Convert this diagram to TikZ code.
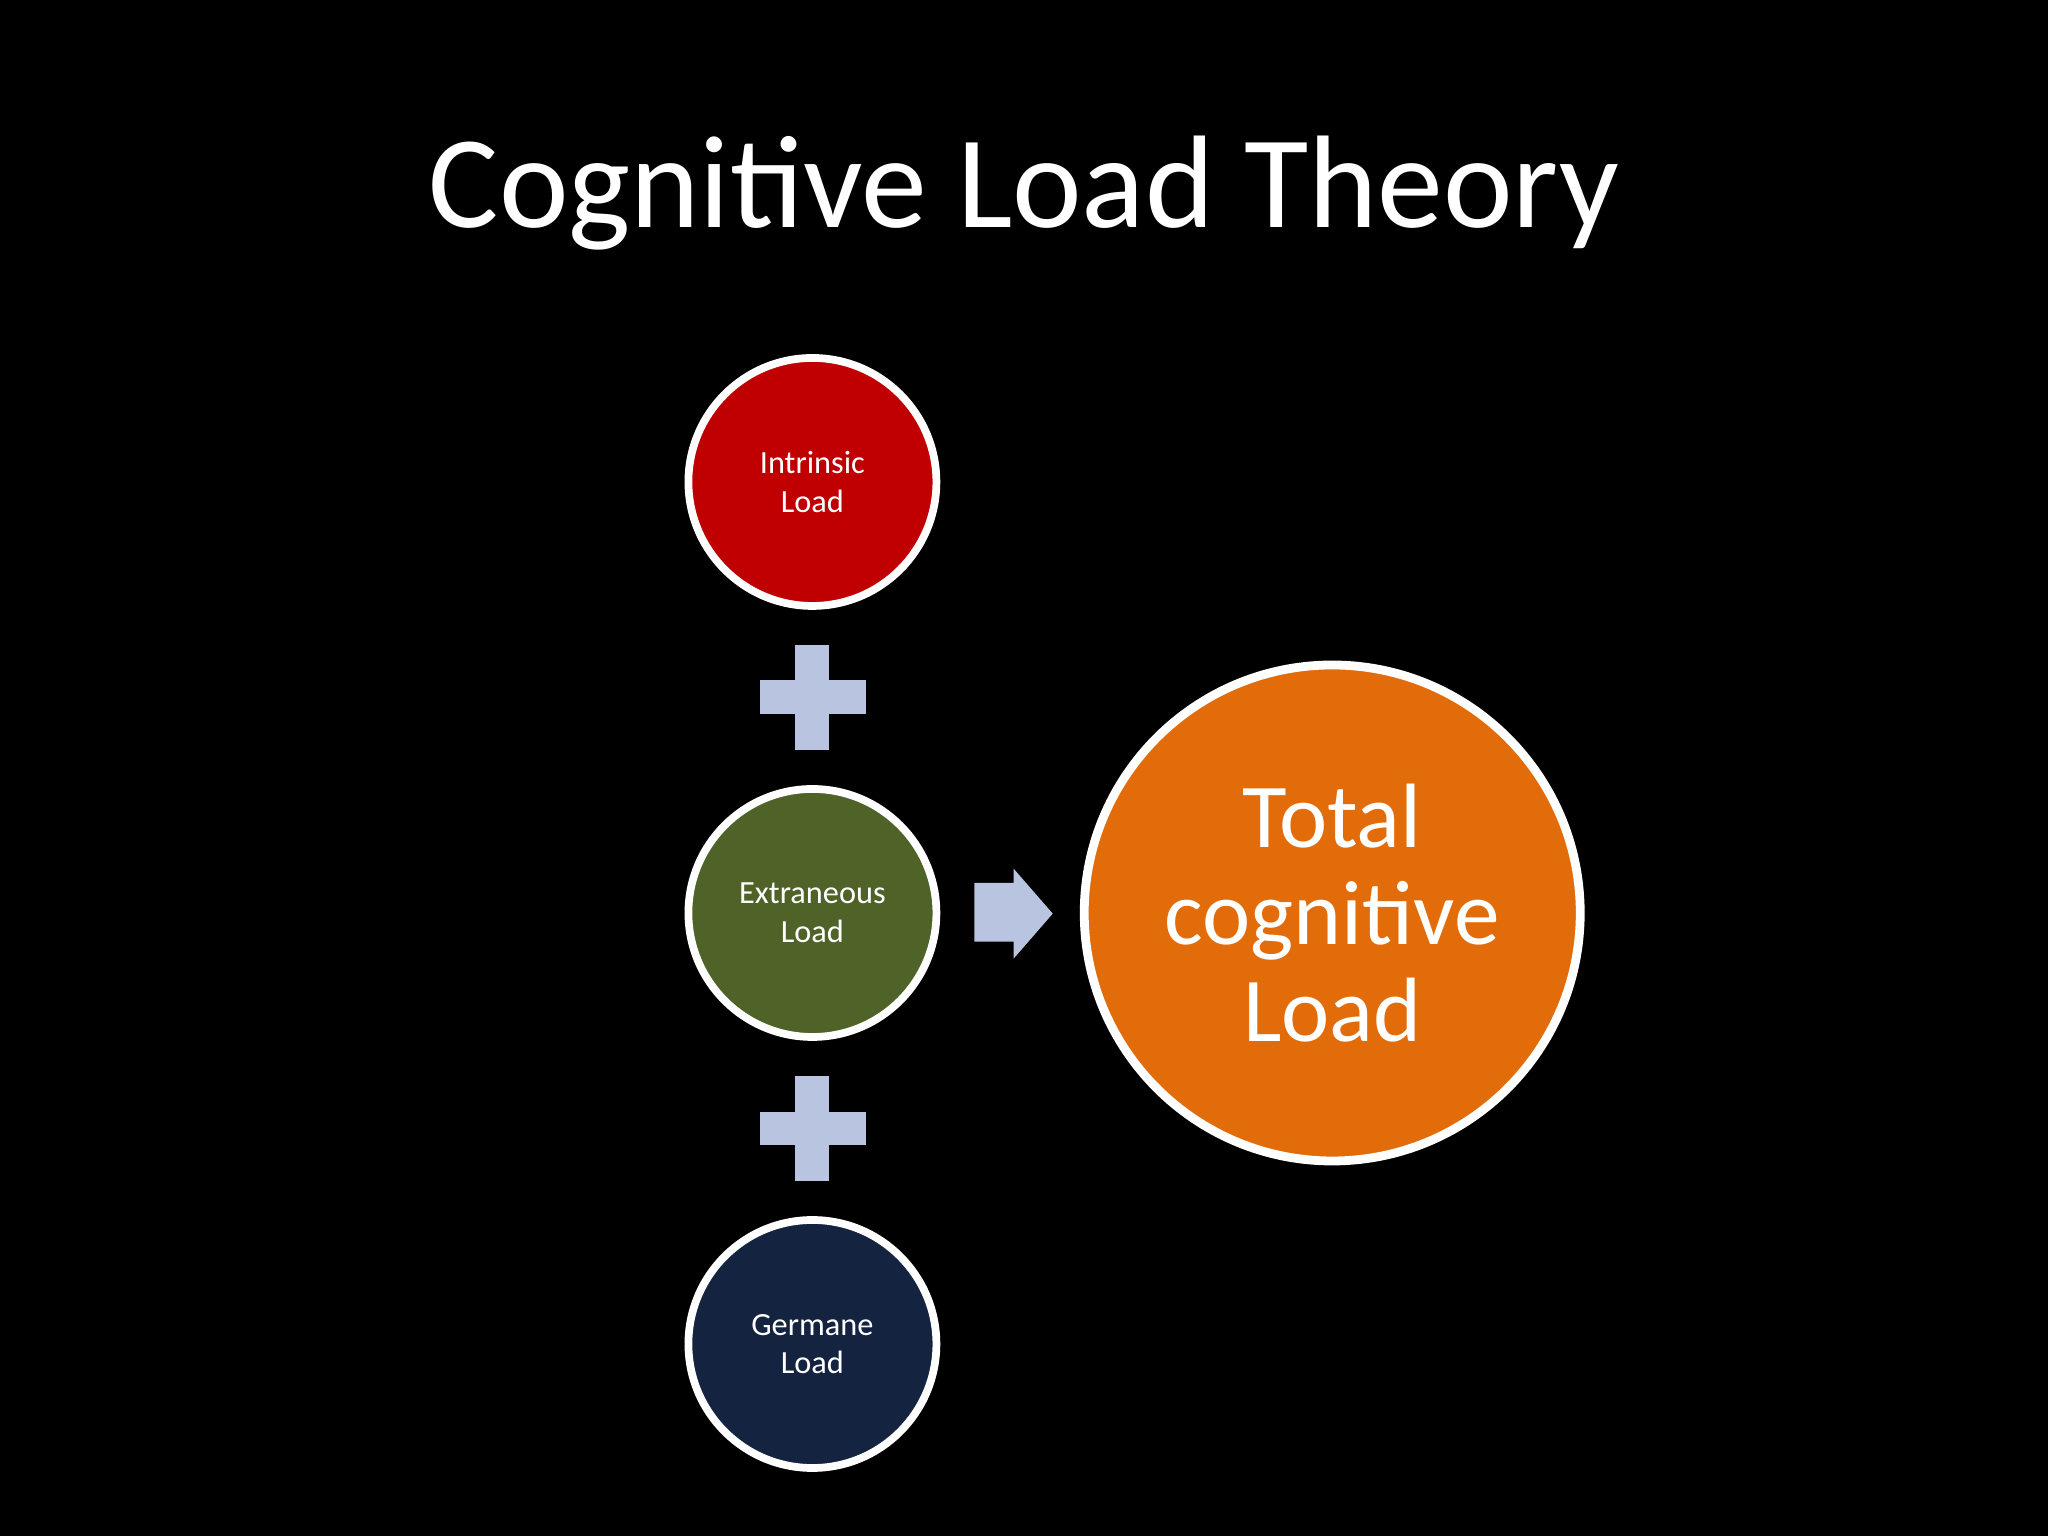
\documentclass[tikz,border=0pt]{standalone}
\usepackage{fontspec}
\setmainfont{Carlito}
\definecolor{plusc}{HTML}{B9C4E0}
\definecolor{redc}{HTML}{C00000}
\definecolor{greenc}{HTML}{4F6228}
\definecolor{bluec}{HTML}{142340}
\definecolor{orangec}{HTML}{E36C0A}
\begin{document}
\begin{tikzpicture}[x=0.01306cm,y=-0.01306cm,
  small/.style={circle,draw=white,line width=2.2pt,minimum size=2.48cm,inner sep=0pt,text=white,align=center,font=\fontsize{9.2pt}{11pt}\selectfont},
  plusf/.style={fill=plusc}]
\fill[black] (0,0) rectangle (1568,1176);
\useasboundingbox (0,0) rectangle (1568,1176);
\node[text=white,font=\fontsize{37.5pt}{40pt}\selectfont] (title) at (784,148) {Cognitive Load Theory};
\node[small,fill=redc] (intr) at (622,369) {Intrinsic\\Load};
\node[small,fill=greenc] (extr) at (622,699) {Extraneous\\Load};
\node[small,fill=bluec] (germ) at (622,1029) {Germane\\Load};
\node[circle,draw=white,line width=2.5pt,fill=orangec,minimum size=4.96cm,inner sep=0pt,text=white,align=center,font=\fontsize{26pt}{27.5pt}\selectfont] (total) at (1020,699) {Total\\cognitive\\Load};
\foreach \y in {534,864}{
  \fill[plusf] (609,\y-40) rectangle (635,\y+40);
  \fill[plusf] (582,\y-13) rectangle (663,\y+13);
}
\fill[plusf] (746,676) -- (776,676) -- (776,665) -- (806,699.5) -- (776,734) -- (776,721) -- (746,721) -- cycle;
\end{tikzpicture}
\end{document}
